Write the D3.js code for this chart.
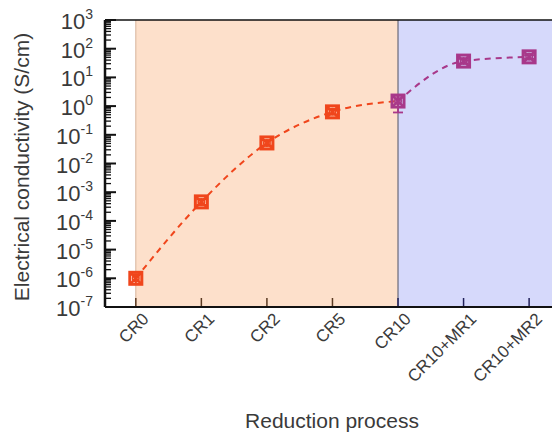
<!DOCTYPE html>
<html lang="en">
<head>
    <meta charset="UTF-8">
    <title>Electrical conductivity vs reduction process</title>
    <script src="https://d3js.org/d3.v7.min.js"></script>
    <style>
        body { margin: 0; background: #fff; }
        text { font-family: "Liberation Sans", Arial, sans-serif; fill: #3a3a3a; }
    </style>
</head>
<body>
    <script>
        const categories = ['CR0', 'CR1', 'CR2', 'CR5', 'CR10', 'CR10+MR1', 'CR10+MR2'];
        const conductivity = [1.0e-6, 4.6e-4, 0.052, 0.63, 1.5, 37, 52];
        const errLow = [6.5e-7, 3.6e-4, 0.042, 0.52, 0.6, 31, 44];
        const errHigh = [1.4e-6, 5.6e-4, 0.064, 0.76, 2.3, 44, 60];
        const yTickExps = [3, 2, 1, 0, -1, -2, -3, -4, -5, -6, -7];

        const width = 552, height = 437;
        const plot = {left: 105, right: 575, top: 20, bottom: 307};

        const svg = d3.select('body').append('svg')
            .attr('width', width)
            .attr('height', height);

        const x = d3.scaleLinear()
            .domain([-0.47, 6.7])
            .range([plot.left, plot.right]);

        const y = d3.scaleLog()
            .domain([1e-7, 1e3])
            .range([plot.bottom, plot.top]);

        // shaded process regions
        svg.append('rect')
            .attr('x', x(0)).attr('y', plot.top)
            .attr('width', x(4) - x(0)).attr('height', plot.bottom - plot.top)
            .attr('fill', '#fde0cb');
        svg.append('rect')
            .attr('x', x(4)).attr('y', plot.top)
            .attr('width', plot.right - x(4)).attr('height', plot.bottom - plot.top)
            .attr('fill', '#d6d9fb');
        svg.append('line')
            .attr('x1', x(0)).attr('x2', x(0))
            .attr('y1', plot.top).attr('y2', plot.bottom)
            .attr('stroke', '#d8b49c').attr('stroke-width', 1);
        svg.append('line')
            .attr('x1', x(4)).attr('x2', x(4))
            .attr('y1', plot.top).attr('y2', plot.bottom)
            .attr('stroke', '#6a6a78').attr('stroke-width', 1.2);

        // x ticks inside
        svg.append('g').selectAll('line')
            .data(categories)
            .join('line')
            .attr('x1', (d, i) => x(i)).attr('x2', (d, i) => x(i))
            .attr('y1', plot.bottom).attr('y2', plot.bottom - 9)
            .attr('stroke', (d, i) => i < 4 ? '#5a3a22' : '#20205a')
            .attr('stroke-width', 1.5);

        // frame
        svg.append('line')
            .attr('x1', plot.left).attr('x2', plot.right)
            .attr('y1', plot.top).attr('y2', plot.top)
            .attr('stroke', '#111').attr('stroke-width', 1.5);
        svg.append('line')
            .attr('x1', plot.left).attr('x2', plot.right)
            .attr('y1', plot.bottom).attr('y2', plot.bottom)
            .attr('stroke', '#111').attr('stroke-width', 2);

        // y axis with inward ticks
        const minorTicks = [];
        for (let e = -7; e < 3; e++) {
            for (let m = 2; m <= 9; m++) minorTicks.push(m * Math.pow(10, e));
        }
        const yAxis = svg.append('g').attr('transform', `translate(${plot.left},0)`);
        yAxis.append('line')
            .attr('y1', plot.top).attr('y2', plot.bottom)
            .attr('stroke', '#111').attr('stroke-width', 2.5);
        yAxis.selectAll('.minor')
            .data(minorTicks)
            .join('line')
            .attr('class', 'minor')
            .attr('x1', 0).attr('x2', 6)
            .attr('y1', d => y(d)).attr('y2', d => y(d))
            .attr('stroke', '#111').attr('stroke-width', 1.3);
        yAxis.selectAll('.major')
            .data(yTickExps)
            .join('line')
            .attr('class', 'major')
            .attr('x1', 0).attr('x2', 11)
            .attr('y1', d => y(Math.pow(10, d))).attr('y2', d => y(Math.pow(10, d)))
            .attr('stroke', '#111').attr('stroke-width', 2);

        const yLabels = svg.append('g').selectAll('text')
            .data(yTickExps)
            .join('text')
            .attr('x', 93)
            .attr('y', d => y(Math.pow(10, d)) + 9)
            .attr('text-anchor', 'end')
            .style('font-size', '22px');
        yLabels.append('tspan').text('10');
        yLabels.append('tspan')
            .attr('dy', -10)
            .style('font-size', '14px')
            .text(d => d);

        // x tick labels
        svg.append('g').selectAll('text')
            .data(categories)
            .join('text')
            .attr('transform', (d, i) => `translate(${x(i) + 14},${plot.bottom + 13}) rotate(-45)`)
            .attr('text-anchor', 'end')
            .style('font-size', '17px')
            .text(d => d);

        // axis titles
        svg.append('text')
            .attr('transform', `translate(29,167) rotate(-90)`)
            .attr('text-anchor', 'middle')
            .style('font-size', '21px')
            .text('Electrical conductivity (S/cm)');
        svg.append('text')
            .attr('x', 332).attr('y', 428)
            .attr('text-anchor', 'middle')
            .style('font-size', '21px')
            .text('Reduction process');

        // data
        const pts = categories.map((c, i) => ({i, v: conductivity[i], lo: errLow[i], hi: errHigh[i]}));
        const orange = '#f0461c', purple = '#a8388a';
        const line = d3.line().curve(d3.curveMonotoneX).x(d => x(d.i)).y(d => y(d.v));

        svg.append('path')
            .datum(pts.slice(0, 5))
            .attr('d', line)
            .attr('fill', 'none')
            .attr('stroke', orange)
            .attr('stroke-width', 2)
            .attr('stroke-dasharray', '6,5');
        svg.append('path')
            .datum(pts.slice(4))
            .attr('d', line)
            .attr('fill', 'none')
            .attr('stroke', purple)
            .attr('stroke-width', 2)
            .attr('stroke-dasharray', '6,5');

        const markers = svg.append('g').selectAll('g')
            .data(pts)
            .join('g')
            .attr('transform', d => `translate(${x(d.i)},${y(d.v)})`);
        const col = d => d.i < 4 ? orange : purple;

        // error bars
        markers.append('line')
            .attr('x1', 0).attr('x2', 0)
            .attr('y1', d => y(d.lo) - y(d.v)).attr('y2', d => y(d.hi) - y(d.v))
            .attr('stroke', col).attr('stroke-width', 1.8);
        markers.append('line')
            .attr('x1', -5).attr('x2', 5)
            .attr('y1', d => y(d.lo) - y(d.v)).attr('y2', d => y(d.lo) - y(d.v))
            .attr('stroke', col).attr('stroke-width', 1.8);
        markers.append('line')
            .attr('x1', -5).attr('x2', 5)
            .attr('y1', d => y(d.hi) - y(d.v)).attr('y2', d => y(d.hi) - y(d.v))
            .attr('stroke', col).attr('stroke-width', 1.8);

        markers.append('rect')
            .attr('x', -6).attr('y', -6)
            .attr('width', 12).attr('height', 12)
            .attr('fill', 'none')
            .attr('stroke', col).attr('stroke-width', 3);
        markers.append('path')
            .attr('d', 'M-5,-5L5,5M-5,5L5,-5')
            .attr('stroke', col).attr('stroke-width', 2.5);
        markers.append('circle')
            .attr('r', 3.2)
            .attr('fill', 'none')
            .attr('stroke', col).attr('stroke-width', 1.6);
        markers.filter(d => d.i === 4).select('rect').attr('stroke', purple);
    </script>
</body>
</html>
